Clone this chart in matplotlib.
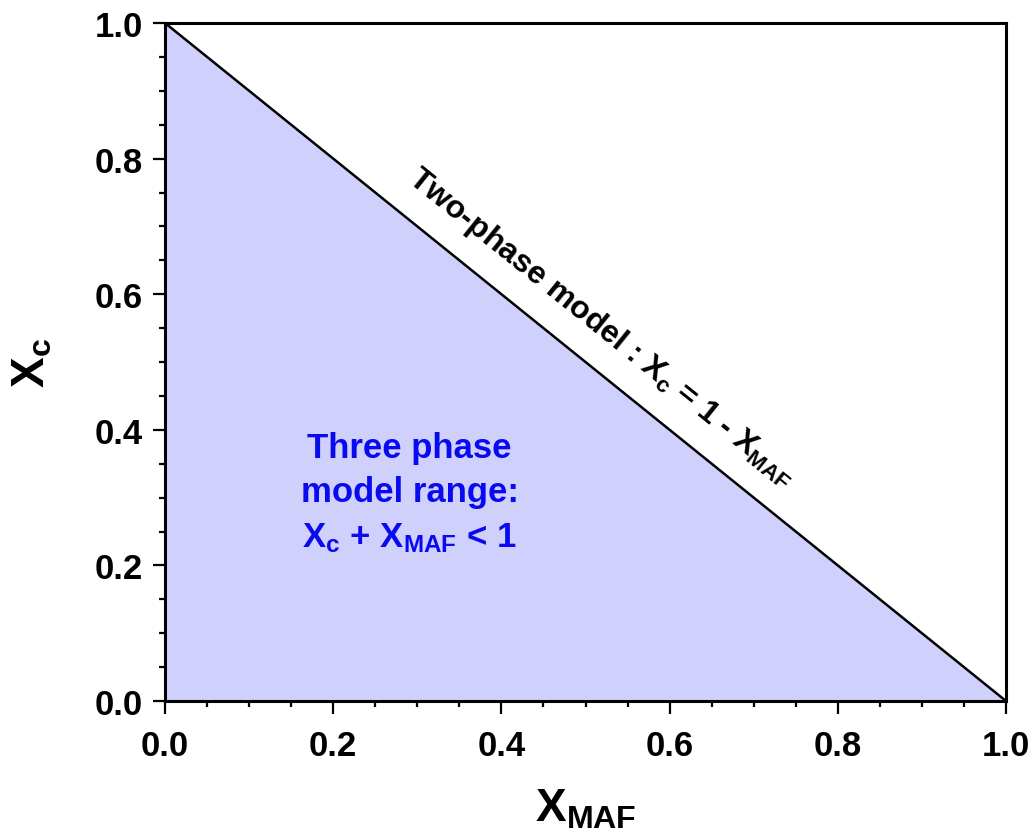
import matplotlib
matplotlib.use("Agg")
import matplotlib.pyplot as plt
from matplotlib.ticker import MultipleLocator
import numpy as np

plt.rcParams['font.family'] = ['Liberation Sans', 'DejaVu Sans']
plt.rcParams['font.weight'] = 'bold'
plt.rcParams['mathtext.fontset'] = 'custom'
plt.rcParams['mathtext.rm'] = 'Liberation Sans:bold'
plt.rcParams['mathtext.it'] = 'Liberation Sans:bold'
plt.rcParams['mathtext.bf'] = 'Liberation Sans:bold'
plt.rcParams['mathtext.default'] = 'rm'

# Two-phase boundary: X_c = 1 - X_MAF
x_maf = [0.0, 1.0]
x_c = [1.0, 0.0]

x_ticks = [0.0, 0.2, 0.4, 0.6, 0.8, 1.0]
y_ticks = [0.0, 0.2, 0.4, 0.6, 0.8, 1.0]

fill_color = '#d0d0fc'
region_color = '#0a0af0'

fig = plt.figure(figsize=(10.35, 8.37), dpi=100)
ax = fig.add_axes([165 / 1035, 1 - 702 / 837, (1006 - 165) / 1035, (702 - 24) / 837])

ax.fill_between(x_maf, 0, x_c, color=fill_color, linewidth=0, zorder=1)
ax.plot(x_maf, x_c, color='black', linewidth=1.8, zorder=2)

ax.set_xlim(0, 1)
ax.set_ylim(0, 1)
ax.set_xticks(x_ticks)
ax.set_yticks(y_ticks)
ax.set_xticklabels([f"{v:.1f}" for v in x_ticks])
ax.set_yticklabels([f"{v:.1f}" for v in y_ticks])
ax.xaxis.set_minor_locator(MultipleLocator(0.05))
ax.yaxis.set_minor_locator(MultipleLocator(0.05))
ax.tick_params(which='major', direction='out', length=9, width=1.6,
               labelsize=25, top=False, right=False)
ax.tick_params(axis='x', which='major', pad=11)
ax.tick_params(axis='y', which='major', pad=7)
ax.tick_params(which='minor', direction='out', length=4.5, width=1.6,
               top=False, right=False)
for s in ax.spines.values():
    s.set_linewidth(2.2)

ax.set_xlabel(r'$X_{MAF}$', fontsize=33, labelpad=18)
ax.set_ylabel(r'$X_c$', fontsize=33, labelpad=29)

# Annotation along the boundary line
fig.canvas.draw()
p0 = ax.transData.transform((x_maf[0], x_c[0]))
p1 = ax.transData.transform((x_maf[1], x_c[1]))
angle = np.degrees(np.arctan2(p1[1] - p0[1], p1[0] - p0[0]))
ax.text(0.506, 0.494 + 0.039, r'Two-phase model : $X_c$ = 1 - $X_{MAF}$',
        rotation=angle, rotation_mode='anchor', ha='center', va='bottom',
        fontsize=23, fontweight='bold', color='black', zorder=3)

ax.text(0.291, 0.308, 'Three phase\nmodel range:\n' + r'$X_c$ + $X_{MAF}$ < 1',
        ha='center', va='center', fontsize=25, fontweight='bold',
        color=region_color, linespacing=1.45, zorder=3)

fig.savefig('out.png', dpi=100)
